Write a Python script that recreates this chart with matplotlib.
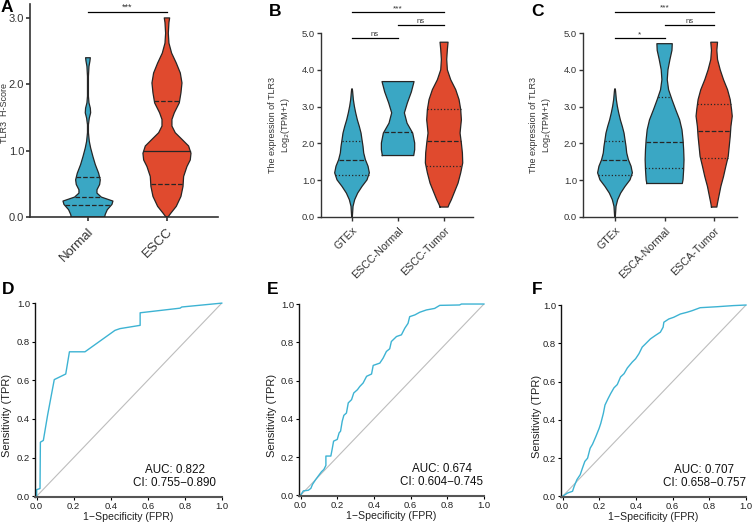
import numpy as np
import matplotlib
matplotlib.use('Agg')
import matplotlib.pyplot as plt

plt.rcParams['font.family'] = ['Liberation Sans', 'DejaVu Sans']

BLUE = '#3AA7C4'
RED = '#E04A2E'
ROC_C = '#3DB3D3'
EDGE = '#262626'

# ---- violin profiles (value, half width in category units) ----
a_labels = ['Normal', 'ESCC']
normal_y = [0.00, 0.04, 0.11, 0.19, 0.24, 0.30, 0.36, 0.41, 0.49, 0.56, 0.66, 0.79, 0.91,
            1.04, 1.14, 1.27, 1.39, 1.49, 1.57, 1.64, 1.72, 1.82, 2.12, 2.27, 2.35, 2.40]
normal_w = [0.211, 0.219, 0.245, 0.304, 0.316, 0.169, 0.114, 0.114, 0.148, 0.156, 0.135, 0.093, 0.063,
            0.034, 0.017, 0.006, 0.006, 0.017, 0.034, 0.030, 0.013, 0.006, 0.006, 0.013, 0.025, 0.030]
normal_q = [0.18, 0.30, 0.60]
escc_y = [0.00, 0.06, 0.16, 0.31, 0.46, 0.61, 0.76, 0.86, 0.96, 1.07, 1.17, 1.27, 1.37,
          1.47, 1.57, 1.72, 1.87, 2.02, 2.17, 2.32, 2.47, 2.62, 2.77, 2.93, 3.00]
escc_w = [0.013, 0.051, 0.118, 0.177, 0.203, 0.211, 0.253, 0.295, 0.304, 0.274, 0.190, 0.105, 0.063,
          0.063, 0.093, 0.156, 0.177, 0.190, 0.169, 0.118, 0.059, 0.025, 0.017, 0.025, 0.034]
escc_q = [0.50, 1.00, 1.75]

b_labels = ['GTEx', 'ESCC-Normal', 'ESCC-Tumor']
c_labels = ['GTEx', 'ESCA-Normal', 'ESCA-Tumor']
gtex_y = [0.00, 0.29, 0.47, 0.65, 0.83, 1.01, 1.20, 1.38, 1.56, 1.74, 1.92, 2.10, 2.28, 2.46,
          2.64, 2.83, 3.01, 3.19, 3.40, 3.48]
gtex_w = [0.007, 0.022, 0.058, 0.123, 0.217, 0.326, 0.377, 0.348, 0.290, 0.254, 0.239, 0.217, 0.196, 0.159,
          0.116, 0.080, 0.051, 0.029, 0.014, 0.007]
gtex_q = [1.14, 1.56, 2.06]
esccn_y = [1.67, 1.83, 2.01, 2.28, 2.55, 2.83, 3.10, 3.40, 3.68]
esccn_w = [0.341, 0.362, 0.362, 0.319, 0.196, 0.138, 0.203, 0.290, 0.348]
esccn_q = [2.31]
escct_y = [0.27, 0.34, 0.47, 0.65, 0.92, 1.20, 1.47, 1.74, 2.01, 2.28, 2.46, 2.64, 2.92, 3.19,
           3.46, 3.73, 4.00, 4.28, 4.55, 4.75]
escct_w = [0.087, 0.109, 0.159, 0.217, 0.304, 0.362, 0.406, 0.399, 0.376, 0.348, 0.362, 0.377, 0.362, 0.326,
           0.254, 0.145, 0.072, 0.058, 0.072, 0.087]
escct_q = [1.39, 2.06, 2.93]
escan_y = [0.91, 1.01, 1.29, 1.56, 1.83, 2.10, 2.37, 2.64, 2.92, 3.19, 3.46, 3.73, 4.00, 4.28, 4.53, 4.71]
escan_w = [0.358, 0.372, 0.385, 0.392, 0.385, 0.372, 0.351, 0.304, 0.223, 0.149, 0.081, 0.054, 0.068,
           0.108, 0.149, 0.155]
escan_q = [1.33, 2.05, 3.25]
escat_y = [0.27, 0.38, 0.56, 0.83, 1.10, 1.38, 1.65, 1.92, 2.19, 2.46, 2.74, 2.92, 3.19, 3.46,
           3.73, 4.00, 4.28, 4.53, 4.75]
escat_w = [0.054, 0.068, 0.095, 0.135, 0.189, 0.236, 0.284, 0.304, 0.324, 0.338, 0.365, 0.351, 0.324, 0.270,
           0.189, 0.122, 0.068, 0.054, 0.068]
escat_q = [1.60, 2.33, 3.06]

# ---- ROC curves ----
d_fpr = [0, 0, 0.018, 0.020, 0.036, 0.059, 0.095, 0.157, 0.177, 0.261, 0.423, 0.45, 0.559, 0.559,
         0.775, 0.784, 1.0]
d_tpr = [0, 0.034, 0.04, 0.28, 0.289, 0.42, 0.604, 0.633, 0.748, 0.748, 0.859, 0.868, 0.885, 0.95,
         0.974, 0.98, 1.0]
e_fpr = [0, 0.015, 0.042, 0.056, 0.065, 0.083, 0.096, 0.114, 0.127, 0.138, 0.138, 0.165, 0.172, 0.18,
         0.2, 0.21, 0.218, 0.227, 0.236, 0.25, 0.26, 0.278, 0.29, 0.31, 0.323, 0.341, 0.36, 0.387,
         0.396, 0.432, 0.45, 0.468, 0.486, 0.495, 0.523, 0.55, 0.568, 0.586, 0.595, 0.623, 0.65,
         0.686, 0.731, 0.759, 0.867, 0.877, 1.0]
e_tpr = [0, 0.023, 0.026, 0.036, 0.057, 0.083, 0.1, 0.123, 0.135, 0.156, 0.205, 0.205, 0.24, 0.283,
         0.292, 0.326, 0.335, 0.387, 0.418, 0.43, 0.483, 0.5, 0.535, 0.552, 0.569, 0.587, 0.622, 0.634,
         0.679, 0.691, 0.717, 0.752, 0.766, 0.804, 0.83, 0.839, 0.873, 0.899, 0.934, 0.943, 0.957,
         0.969, 0.977, 0.993, 0.995, 1.0, 1.0]
f_fpr = [0, 0.027, 0.054, 0.063, 0.078, 0.096, 0.108, 0.121, 0.136, 0.15, 0.163, 0.181, 0.199, 0.208,
         0.222, 0.231, 0.248, 0.262, 0.28, 0.298, 0.316, 0.335, 0.353, 0.38, 0.398, 0.416, 0.434,
         0.452, 0.479, 0.506, 0.533, 0.548, 0.552, 0.579, 0.606, 0.642, 0.678, 0.705, 0.75, 0.841,
         0.931, 1.0]
f_tpr = [0, 0.017, 0.026, 0.052, 0.087, 0.113, 0.147, 0.182, 0.199, 0.251, 0.272, 0.312, 0.355, 0.381,
         0.433, 0.477, 0.511, 0.537, 0.567, 0.584, 0.624, 0.641, 0.671, 0.702, 0.719, 0.745, 0.78,
         0.797, 0.823, 0.841, 0.858, 0.884, 0.91, 0.927, 0.936, 0.953, 0.962, 0.97, 0.986, 0.991,
         0.997, 1.0]
auc_text = ['AUC: 0.822\nCI: 0.755\u22120.890',
            'AUC: 0.674\nCI: 0.604\u22120.745',
            'AUC: 0.707\nCI: 0.658\u22120.757']

fig = plt.figure(figsize=(7.53, 5.24), dpi=100)


def violin(ax, pos, ys, ws, color, qs, styles, scale=1.0):
    ys = np.asarray(ys, float)
    ws = np.asarray(ws, float) * scale
    ax.fill_betweenx(ys, pos - ws, pos + ws, facecolor=color, edgecolor='none', zorder=2)
    xs = np.concatenate([pos - ws, (pos + ws)[::-1], [pos - ws[0]]])
    yy = np.concatenate([ys, ys[::-1], [ys[0]]])
    ax.plot(xs, yy, color=EDGE, lw=0.9, zorder=3, solid_joinstyle='round')
    for q, ls in zip(qs, styles):
        w = np.interp(q, ys, ws)
        ax.plot([pos - w, pos + w], [q, q], color=EDGE, lw=0.9, ls=ls, zorder=4)


def sig(ax, x1, x2, y, txt, fs):
    ax.plot([x1, x2], [y, y], color='black', lw=0.9, clip_on=False)
    ax.text((x1 + x2) / 2, y, txt, ha='center', va='bottom', fontsize=fs,
            color='#333333', clip_on=False)


def style_violin_ax(ax, labels, fs_y, fs_x, lw):
    for s in ['top', 'right']:
        ax.spines[s].set_visible(False)
    for s in ['left', 'bottom']:
        ax.spines[s].set_linewidth(lw)
        ax.spines[s].set_color('#333333')
    ax.set_xticks(range(len(labels)))
    ax.set_xticklabels(labels, rotation=45, ha='right', rotation_mode='anchor',
                       fontsize=fs_x, color='#333333')
    ax.tick_params(axis='both', direction='out', length=3, width=lw, color='#333333')
    ax.tick_params(axis='y', labelsize=fs_y, labelcolor='#333333', pad=1.2)
    ax.tick_params(axis='x', pad=3)


# ---- A ----
axA = fig.add_axes([0.0398, 0.5859, 0.2497, 0.4065])
axA.set_xlim(-0.734, 1.646)
axA.set_ylim(0, 3.21)
violin(axA, 0, normal_y, normal_w, BLUE, normal_q, ['--', '--', '--'])
violin(axA, 1, escc_y, escc_w, RED, escc_q, ['--', '-', '--'])
style_violin_ax(axA, a_labels, 8, 9.5, 1.2)
axA.set_yticks([0, 1, 2, 3])
axA.set_yticklabels(['0.0', '1.0', '2.0', '3.0'])
axA.set_ylabel('TLR3  H-Score', fontsize=6.5, color='#333333')
axA.yaxis.set_label_coords(-0.11, 0.49)
sig(axA, 0, 1, 3.09, '***', 6.5)

# ---- B ----
axB = fig.add_axes([0.4263, 0.5859, 0.2019, 0.3511])
axB.set_xlim(-0.674, 2.63)
axB.set_ylim(0, 5)
violin(axB, 0, gtex_y, gtex_w, BLUE, gtex_q, [':', '--', ':'])
violin(axB, 1, esccn_y, esccn_w, BLUE, esccn_q, ['--'])
violin(axB, 2, escct_y, escct_w, RED, escct_q, [':', '--', ':'])
style_violin_ax(axB, b_labels, 6.8, 7.7, 1.0)
axB.set_yticks([0, 1, 2, 3, 4, 5])
axB.set_yticklabels(['0.0', '1.0', '2.0', '3.0', '4.0', '5.0'])
axB.set_ylabel('The expression of TLR3\nLog$_2$(TPM+1)', fontsize=6.5, color='#333333')
axB.yaxis.set_label_coords(-0.19, 0.5)
sig(axB, 0, 2, 5.57, '***', 6)
sig(axB, 1, 2, 5.23, 'ns', 5.5)
sig(axB, 0, 1, 4.86, 'ns', 5.5)

# ---- C ----
axC = fig.add_axes([0.7742, 0.5859, 0.2045, 0.3511])
axC.set_xlim(-0.646, 2.46)
axC.set_ylim(0, 5)
violin(axC, 0, gtex_y, gtex_w, BLUE, gtex_q, [':', '--', ':'], scale=0.93)
violin(axC, 1, escan_y, escan_w, BLUE, escan_q, [':', '--', ':'])
violin(axC, 2, escat_y, escat_w, RED, escat_q, [':', '--', ':'])
style_violin_ax(axC, c_labels, 6.8, 7.7, 1.0)
axC.set_yticks([0, 1, 2, 3, 4, 5])
axC.set_yticklabels(['0.0', '1.0', '2.0', '3.0', '4.0', '5.0'])
axC.set_ylabel('The expression of TLR3\nLog$_2$(TPM+1)', fontsize=6.5, color='#333333')
axC.yaxis.set_label_coords(-0.195, 0.5)
sig(axC, 0, 2, 5.58, '***', 6)
sig(axC, 1, 2, 5.23, 'ns', 5.5)
sig(axC, 0, 1, 4.86, '*', 6)

# ---- ROC panels ----
roc_boxes = [[0.0465, 0.0515, 0.248, 0.370],
             [0.397, 0.0534, 0.2457, 0.3664],
             [0.745, 0.0515, 0.2457, 0.3664]]
roc_data = [(d_fpr, d_tpr), (e_fpr, e_tpr), (f_fpr, f_tpr)]
auc_x = [0.97, 0.995, 1.0]
ylab_x = [-0.125, -0.117, -0.104]
for box, (fx, ty), txt, ax_, lx in zip(roc_boxes, roc_data, auc_text, auc_x, ylab_x):
    ax = fig.add_axes(box)
    ax.set_xlim(-0.009, 1.0)
    ax.set_ylim(-0.004, 1.0)
    ax.plot([0, 1], [0, 1], color='#BDBDBD', lw=0.8, zorder=1)
    ax.plot(fx, ty, color=ROC_C, lw=1.0, zorder=2, clip_on=False)
    for s in ['top', 'right']:
        ax.spines[s].set_visible(False)
    ax.spines['left'].set_linewidth(1.0)
    ax.spines['left'].set_color('#111111')
    ax.spines['bottom'].set_linewidth(1.5)
    ax.spines['bottom'].set_color('#555555')
    ticks = [0, 0.2, 0.4, 0.6, 0.8, 1.0]
    tl = ['0.0', '0.2', '0.4', '0.6', '0.8', '1.0']
    ax.set_xticks(ticks)
    ax.set_xticklabels(tl)
    ax.set_yticks(ticks)
    ax.set_yticklabels(tl)
    ax.tick_params(axis='both', direction='out', length=2.5, width=0.8, labelsize=6.8,
                   labelcolor='#222222', pad=1)
    ax.set_xlabel('1\u2212Specificity (FPR)', fontsize=7.6, color='#222222', labelpad=1)
    ax.set_ylabel('Sensitivity (TPR)', fontsize=8, color='#222222')
    ax.yaxis.set_label_coords(lx, 0.42)
    ax.text(ax_, 0.04, txt, ha='right', va='bottom', multialignment='center',
            fontsize=8.4, color='#111111', linespacing=1.1)

# ---- panel letters ----
for lbl, x, y in [('A', 1, 8), ('B', 269, 11), ('C', 531, 11),
                  ('D', 2, 290), ('E', 267, 289), ('F', 532, 289)]:
    fig.text(x / 753, 1 - y / 524, lbl, fontsize=12.5, fontweight='bold', va='center', ha='left')

fig.savefig('out.png', dpi=100)
